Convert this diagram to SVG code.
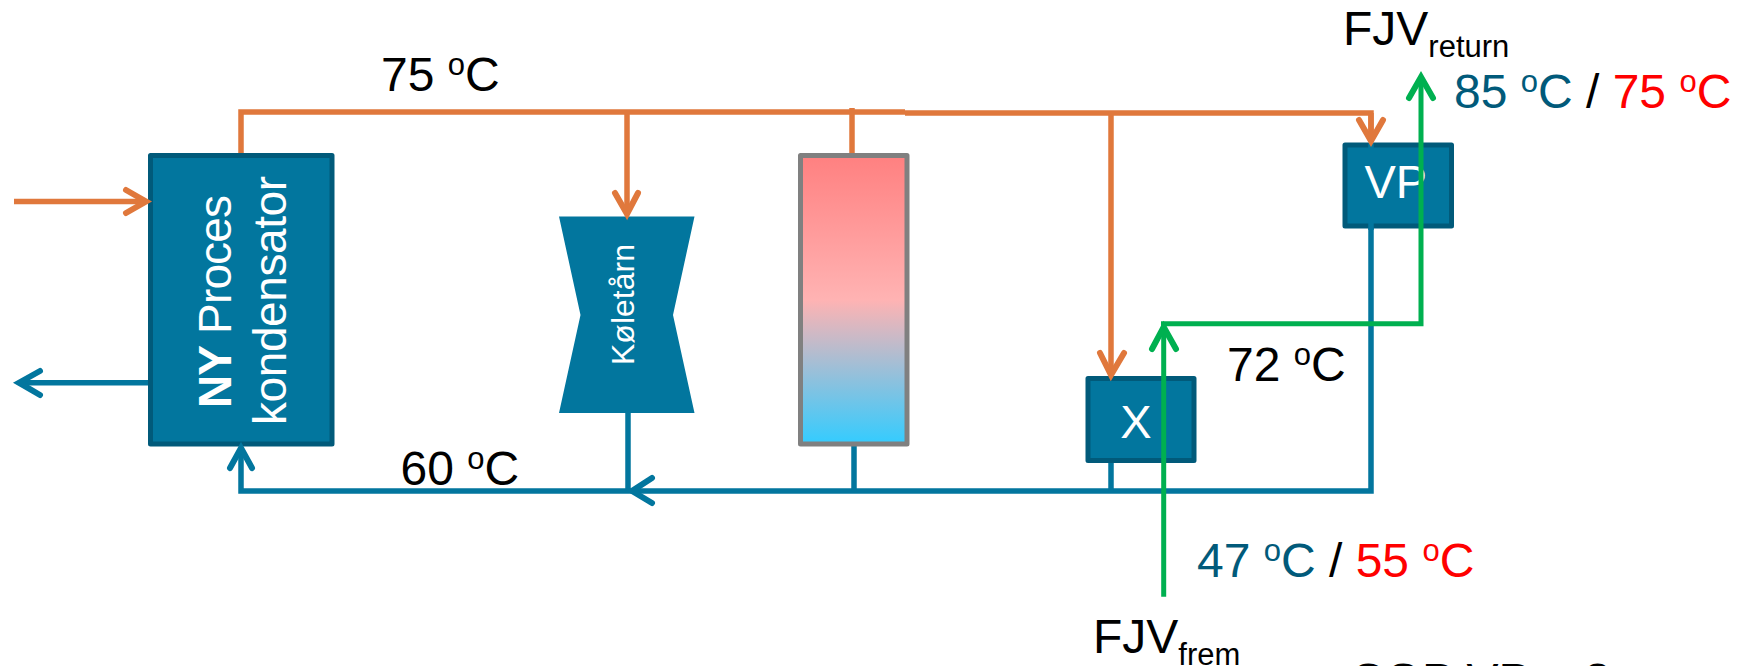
<svg xmlns="http://www.w3.org/2000/svg" width="1744" height="666" viewBox="0 0 1744 666">
<style>
text{font-family:"Liberation Sans",Arial,sans-serif}
.lbl{font-size:48px;fill:#000}
.sub{font-size:31px}
.sup{font-size:31px}
.w{fill:#fff}
.box{fill:#02769e;stroke:#015a7a;stroke-width:5;stroke-linejoin:round}
.or,.bl,.gr{fill:none;stroke-width:5.5}
.gr{stroke-width:5}
.or{stroke:#e0783c}
.bl{stroke:#02769e}
.gr{stroke:#00b050}
.head{stroke-linecap:round;stroke-linejoin:miter;stroke-width:6}
.teal{fill:#015a7a}
.red{fill:#f00}
</style>
<defs>
<linearGradient id="tank" x1="0" y1="0" x2="0" y2="1">
<stop offset="0" stop-color="#ff8080"/>
<stop offset="0.5" stop-color="#ffb3b3"/>
<stop offset="1" stop-color="#33ccff"/>
</linearGradient>
</defs>
<g id="connectors-back">
<path class="or" d="M241 156V112H905"/>
<path class="or" d="M905 113H1371V140"/>
<path class="or" d="M627 112V212"/>
<path class="or" d="M852 108V156"/>
<path class="or" d="M1111 112V373"/>
<path class="or" d="M14 201.500H144"/>
<path class="bl" d="M148 382.700H20"/>
<path class="bl" d="M1371 143V491H241V450"/>
<path class="bl" d="M628 413V491"/>
<path class="bl" d="M854 443V491"/>
<path class="bl" d="M1111 458V491"/>
</g>
<g id="kondensator">
<rect class="box" x="150.500" y="155.500" width="181.500" height="288.500"/>
<text class="w" transform="translate(231 408) rotate(-90)" font-size="46" textLength="213"><tspan font-weight="bold">NY</tspan> Proces</text>
<text class="w" transform="translate(285.500 425) rotate(-90)" font-size="46" textLength="249">kondensator</text>
</g>
<g id="koletarn">
<polygon points="559,216.500 694.500,216.500 673,315 694.500,413 559,413 580.500,315" fill="#02769e"/>
<text class="w" transform="translate(633.500 365) rotate(-90)" font-size="32">Køletårn</text>
</g>
<g id="tank-node">
<rect x="800.500" y="155.500" width="106.500" height="288.500" fill="url(#tank)" stroke="#808080" stroke-width="5" stroke-linejoin="round"/>
</g>
<g id="x-node">
<rect class="box" x="1088" y="378.500" width="106" height="82"/>
<text class="w" x="1136" y="438" font-size="47" text-anchor="middle">X</text>
</g>
<g id="vp-node">
<rect class="box" x="1345" y="145" width="106.500" height="81"/>
<text class="w" x="1364.500" y="198.300" font-size="47">VP</text>
</g>
<g id="connectors-front">
<path class="bl" d="M1371 143V149"/>
<path class="bl" d="M1371 223V230"/>
<path class="or" d="M1371 113V140"/>
<path class="or head" d="M126 190L146 201.500L126 213"/>
<path class="bl head" d="M40 371L19 382.700L40 395"/>
<path class="bl head" d="M230 468L241 448L252 468"/>
<path class="or head" d="M615 193L627 214L638 193"/>
<path class="or head" d="M1100 353L1111 375L1124 353"/>
<path class="or head" d="M1359 120L1371 141L1383 120"/>
<path class="bl head" d="M652 478L632 491L652 503"/>
<path class="gr" d="M1163.700 596.700V328"/>
<path class="gr" d="M1161 323.700H1421V80"/>
<path class="gr head" d="M1152 349L1163.700 327L1176 349"/>
<path class="gr head" d="M1409 98L1421 77L1433 98"/>
</g>
<g id="labels">
<text class="lbl" x="381" y="90.700">75 <tspan class="sup" dy="-16">o</tspan><tspan dy="16">C</tspan></text>
<text class="lbl" x="400.500" y="485">60 <tspan class="sup" dy="-16">o</tspan><tspan dy="16">C</tspan></text>
<text class="lbl" x="1227" y="381">72 <tspan class="sup" dy="-16">o</tspan><tspan dy="16">C</tspan></text>
<text class="lbl" x="1454" y="107.700"><tspan class="teal">85 </tspan><tspan class="teal sup" dy="-16">o</tspan><tspan class="teal" dy="16">C </tspan>/ <tspan class="red">75 </tspan><tspan class="red sup" dy="-16">o</tspan><tspan class="red" dy="16">C</tspan></text>
<text class="lbl" x="1197" y="577"><tspan class="teal">47 </tspan><tspan class="teal sup" dy="-16">o</tspan><tspan class="teal" dy="16">C </tspan>/ <tspan class="red">55 </tspan><tspan class="red sup" dy="-16">o</tspan><tspan class="red" dy="16">C</tspan></text>
<text class="lbl" x="1343" y="45">FJV<tspan class="sub" dy="12">return</tspan></text>
<text class="lbl" x="1093" y="652.700">FJV<tspan class="sub" dy="12">frem</tspan></text>
<text class="lbl" x="1350" y="697">COP VP = 3</text>
</g>
</svg>
